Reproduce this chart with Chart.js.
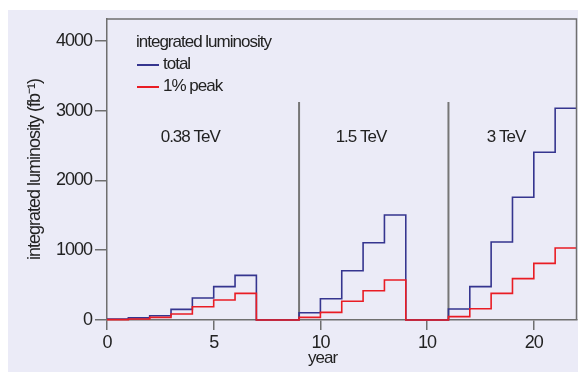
<!DOCTYPE html>
<html>
<head>
<meta charset="utf-8">
<script src="https://cdn.jsdelivr.net/npm/chart.js@4.4.1/dist/chart.umd.min.js"></script>
<style>
  html, body { margin: 0; padding: 0; background: #ffffff; }
  #wrap { width: 578px; height: 372px; }
</style>
</head>
<body>
<div id="wrap"><canvas id="c" width="578" height="372"></canvas></div>
<script>
// ---- data ----
const segmentStartYears = [0, 9, 16];
const totalSeg1 = [15, 30, 60, 153, 315, 478, 640];
const totalSeg2 = [105, 305, 707, 1108, 1505];
const totalSeg3 = [158, 478, 1118, 1759, 2404, 3035];
const peakSeg1 = [5, 15, 38, 86, 191, 287, 382];
const peakSeg2 = [38, 110, 268, 420, 573];
const peakSeg3 = [48, 162, 382, 593, 812, 1032];
const energyLabels = ['0.38 TeV', '1.5 TeV', '3 TeV'];
const energyLabelYears = [3.9, 11.9, 18.7];
const energyLabelValue = 2616;
const separatorYears = [9, 16];
const separatorTopValue = 3125;
const xTickValues = [0, 5, 10, 15, 20];
const xTickLabels = ['0', '5', '10', '10', '20'];
const yTickValues = [0, 1000, 2000, 3000, 4000];
const seriesNames = ['total', '1% peak'];
const legendTitle = 'integrated luminosity';
const xTitle = 'year';
const xTitleYear = 10.1;
const yTitle = 'integrated luminosity (fb\u207B\u00B9)';

const FONT = "'Liberation Sans', Arial, sans-serif";
const BLUE = '#35358f';
const RED = '#e91c24';
const AXIS = '#6f6f6f';
const TEXT = '#222222';

function buildSteps(segs) {
  const pts = [];
  segs.forEach((vals, s) => {
    const start = segmentStartYears[s];
    vals.forEach((v, i) => pts.push({x: start + i, y: v}));
    const end = start + vals.length;
    if (s < segs.length - 1) pts.push({x: end, y: 0});
    else pts.push({x: end, y: vals[vals.length - 1]});
  });
  return pts;
}

const totalPoints = buildSteps([totalSeg1, totalSeg2, totalSeg3]);
const peakPoints = buildSteps([peakSeg1, peakSeg2, peakSeg3]);

const bgPlugin = {
  id: 'bg',
  beforeDraw(chart) {
    const ctx = chart.ctx;
    ctx.letterSpacing = '-1px';
    ctx.save();
    ctx.fillStyle = '#ffffff';
    ctx.fillRect(0, 0, chart.width, chart.height);
    ctx.fillStyle = '#ebebf7';
    ctx.fillRect(8, 10, chart.width - 8, chart.height - 10);
    ctx.restore();
  }
};

const decoPlugin = {
  id: 'deco',
  beforeDatasetsDraw(chart) {
    const ctx = chart.ctx;
    const xs = chart.scales.x, ys = chart.scales.y;
    ctx.save();
    ctx.strokeStyle = '#767676';
    ctx.lineWidth = 2;
    separatorYears.forEach(yr => {
      const px = xs.getPixelForValue(yr);
      ctx.beginPath();
      ctx.moveTo(px, ys.getPixelForValue(separatorTopValue));
      ctx.lineTo(px, ys.getPixelForValue(0));
      ctx.stroke();
    });
    ctx.restore();
  },
  afterDraw(chart) {
    const ctx = chart.ctx;
    const a = chart.chartArea;
    const xs = chart.scales.x, ys = chart.scales.y;
    ctx.save();
    ctx.letterSpacing = '-1px';
    // frame top and right
    ctx.strokeStyle = AXIS;
    ctx.lineWidth = 1.5;
    ctx.beginPath();
    ctx.moveTo(a.left, a.top);
    ctx.lineTo(a.right, a.top);
    ctx.lineTo(a.right, a.bottom);
    ctx.stroke();
    // energy labels
    ctx.fillStyle = TEXT;
    ctx.font = '17px ' + FONT;
    ctx.textAlign = 'center';
    ctx.textBaseline = 'middle';
    energyLabels.forEach((t, i) => {
      ctx.fillText(t, xs.getPixelForValue(energyLabelYears[i]), ys.getPixelForValue(energyLabelValue));
    });
    // x axis title
    ctx.textBaseline = 'alphabetic';
    ctx.fillText(xTitle, xs.getPixelForValue(xTitleYear), 363);
    // legend
    ctx.textAlign = 'left';
    ctx.fillText(legendTitle, 136, 47);
    const colors = [BLUE, RED];
    const rowsY = [65, 87];
    seriesNames.forEach((n, i) => {
      ctx.strokeStyle = colors[i];
      ctx.lineWidth = 2;
      ctx.beginPath();
      ctx.moveTo(137, rowsY[i]);
      ctx.lineTo(159, rowsY[i]);
      ctx.stroke();
      ctx.fillStyle = TEXT;
      ctx.fillText(n, 163, rowsY[i] + 4);
    });
    ctx.restore();
  }
};

new Chart(document.getElementById('c'), {
  type: 'line',
  data: {
    datasets: [
      { label: seriesNames[0], data: totalPoints, borderColor: BLUE, borderWidth: 1.6,
        stepped: 'before', pointRadius: 0, fill: false, order: 2, clip: 4 },
      { label: seriesNames[1], data: peakPoints, borderColor: RED, borderWidth: 1.6,
        stepped: 'before', pointRadius: 0, fill: false, order: 1, clip: 4 }
    ]
  },
  options: {
    responsive: false,
    animation: false,
    events: [],
    layout: { padding: { top: 19, right: 1.5, left: 0, bottom: 0 } },
    plugins: { legend: { display: false }, tooltip: { enabled: false } },
    scales: {
      x: {
        type: 'linear', min: 0, max: 22,
        afterBuildTicks: s => { s.ticks = xTickValues.map(v => ({value: v})); },
        afterFit: s => { s.height = 52; },
        grid: { drawOnChartArea: false, drawTicks: true, tickLength: 10, color: AXIS, lineWidth: 1.5 },
        border: { display: true, color: AXIS, width: 1.5 },
        ticks: { color: TEXT, font: { family: FONT, size: 18 }, padding: 2, maxRotation: 0,
                 callback: (v, i) => xTickLabels[i] },
        title: { display: false }
      },
      y: {
        min: 0, max: 4315,
        afterBuildTicks: s => { s.ticks = yTickValues.map(v => ({value: v})); },
        afterFit: s => { s.width = 107; },
        grid: { drawOnChartArea: false, drawTicks: true, tickLength: 12, color: AXIS, lineWidth: 1.5 },
        border: { display: true, color: AXIS, width: 1.5 },
        ticks: { color: TEXT, font: { family: FONT, size: 18 }, padding: 3,
                 callback: v => String(v) },
        title: { display: true, text: yTitle, color: TEXT, font: { family: FONT, size: 18 },
                 padding: { top: 24, bottom: 0 } }
      }
    }
  },
  plugins: [bgPlugin, decoPlugin]
});
</script>
</body>
</html>
